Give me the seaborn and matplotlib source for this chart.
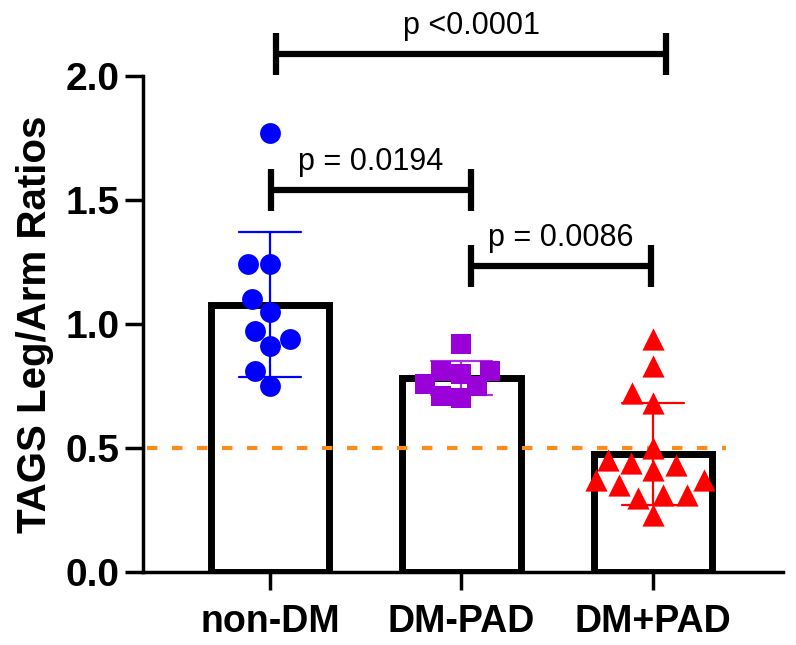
import numpy as np
import pandas as pd
import matplotlib
matplotlib.use("Agg")
import matplotlib.pyplot as plt
import seaborn as sns

# values
groups = ["non-DM", "DM-PAD", "DM+PAD"]
non_dm = [1.77, 1.24, 1.24, 1.10, 1.05, 0.97, 0.94, 0.91, 0.81, 0.75]
dm_pad = [0.92, 0.81, 0.81, 0.80, 0.76, 0.75, 0.71, 0.70]
dm_plus_pad = [0.94, 0.83, 0.72, 0.68, 0.50, 0.45, 0.44, 0.43, 0.41,
               0.37, 0.37, 0.35, 0.31, 0.31, 0.30, 0.23]
cutoff = 0.5
comparisons = [("non-DM", "DM-PAD", "p = 0.0194"),
               ("DM-PAD", "DM+PAD", "p = 0.0086"),
               ("non-DM", "DM+PAD", "p <0.0001")]

df = pd.DataFrame({
    "group": [groups[0]] * len(non_dm) + [groups[1]] * len(dm_pad)
             + [groups[2]] * len(dm_plus_pad),
    "ratio": non_dm + dm_pad + dm_plus_pad,
})

colors = {"non-DM": "#0000FF", "DM-PAD": "#9A00D8", "DM+PAD": "#FF0000"}
err_colors = {"non-DM": "#0000FF", "DM-PAD": "#A830E0", "DM+PAD": "#FF0000"}
markers = {"non-DM": "o", "DM-PAD": "s", "DM+PAD": "^"}
msize = {"non-DM": 15, "DM-PAD": 14, "DM+PAD": 16}

sns.set_theme(style="ticks")
plt.rcParams["font.family"] = ["Liberation Sans", "DejaVu Sans"]
plt.rcParams["text.color"] = "black"

fig = plt.figure(figsize=(7.96, 6.45), dpi=100)
ax = fig.add_axes([0.1796, 0.1132, 0.8041, 0.7690])

for g in groups:
    sub = df[df["group"] == g]
    sns.barplot(data=sub, x="group", y="ratio", order=groups, errorbar="sd",
                width=0.62, color="white", edgecolor="black", linewidth=5,
                capsize=0.32, err_kws={"color": err_colors[g], "linewidth": 1.6},
                ax=ax)

ax.hlines(cutoff, -0.64, 2.38, colors="#FF8C1A", linestyles=(0, (2.5, 3.5)),
          linewidth=3, zorder=2.5)

for g in groups:
    sub = df[df["group"] == g]
    sns.swarmplot(data=sub, x="group", y="ratio", order=groups,
                  marker=markers[g], color=colors[g], size=msize[g],
                  linewidth=0, ax=ax, zorder=3)

ax.set_xlim(-0.663, 2.679)
ax.set_ylim(0, 2.0)
ax.set_yticks(np.arange(0, 2.01, 0.5))
ax.set_yticklabels(["{:.1f}".format(v) for v in np.arange(0, 2.01, 0.5)])
ax.set_xlabel("")
ax.set_ylabel("TAGS Leg/Arm Ratios", fontsize=29, fontweight="bold",
              color="black", labelpad=8)
ax.tick_params(axis="both", length=13, width=2.5, color="black",
               labelcolor="black")
ax.tick_params(axis="x", pad=10, labelsize=27)
ax.tick_params(axis="y", pad=4, labelsize=28)
for lbl in ax.get_xticklabels() + ax.get_yticklabels():
    lbl.set_fontweight("bold")
for side in ["left", "bottom"]:
    ax.spines[side].set_linewidth(2.5)
    ax.spines[side].set_color("black")
sns.despine(ax=ax)

# significance brackets
levels = [1.54, 1.234, 2.09]
shifts = [(0.005, 0.05), (0.05, -0.01), (0.03, 0.07)]
for (a, b, txt), y, (da, db) in zip(comparisons, levels, shifts):
    x1 = groups.index(a) + da
    x2 = groups.index(b) + db
    ax.plot([x1, x2], [y, y], color="black", lw=4.5, clip_on=False,
            solid_capstyle="butt")
    ax.vlines([x1, x2], y - 0.085, y + 0.085, color="black", lw=4.5,
              clip_on=False)
    ax.text((x1 + x2) / 2, y + 0.08, txt, ha="center", va="baseline",
            fontsize=22, color="black", clip_on=False)

plt.savefig("out.png", dpi=100)
